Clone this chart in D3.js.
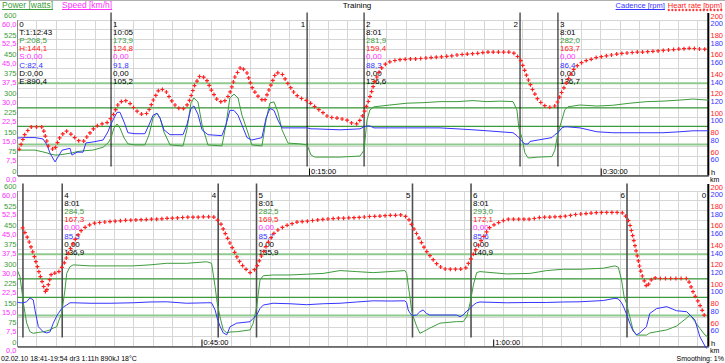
<!DOCTYPE html>
<html>
<head>
<meta charset="utf-8">
<script src="https://cdn.jsdelivr.net/npm/d3@7"></script>
<style>
  body { margin: 0; background: #fff; }
  svg { display: block; }
  text { font-family: "Liberation Sans", Arial, sans-serif; }
</style>
</head>
<body>
<div id="chart"></div>
<script>
// ---- data ----
// time span (minutes) of each of the two rows
var panelSpan = [[0, 35.53], [35.53, 71.06]];

// heart rate, one sample every 0.3 min starting at 0.1 min
var hrStart = 0.1, hrStep = 0.3;
var heartRate = [
  67, 83, 90, 90, 90, 70, 66, 80, 86, 82,
  76, 75, 83, 90, 93, 94, 101, 114, 118, 114,
  107, 103, 104, 118, 129, 128, 118, 110, 108, 114,
  132, 143, 140, 127, 117, 115, 123, 142, 152, 146,
  129, 121, 116, 131, 146, 145, 135, 126, 120, 118,
  114, 109, 105, 100, 99.5, 98.5, 97.5, 94, 93, 103,
  119, 138, 150, 156, 158, 159, 159.5, 160, 160, 160.5,
  161, 161.5, 162, 162.5, 163, 164, 164.5, 165, 165.5, 166,
  167, 167, 167, 167, 167, 165.5, 158, 142, 128, 117,
  112, 110, 112, 126, 138, 149, 155, 158, 159.5, 161.5,
  162.5, 163.5, 164.5, 165.5, 166, 166.5, 167, 167, 167.5, 168,
  168.5, 169, 169.5, 170, 170.5, 171, 170.5, 170, 170, 162,
  150, 133, 113, 95, 116, 115, 124, 138, 150, 159,
  164, 166.5, 167.5, 168, 168.5, 169, 169.5, 170, 170, 170.5,
  170.5, 171, 171, 171.5, 172, 172, 172.5, 173, 173, 173,
  173.5, 173.5, 173, 166, 153, 141, 129, 121, 116, 120,
  134, 146, 156, 161, 164, 166, 168, 168.5, 169, 170,
  170.5, 171, 171.5, 172, 172, 172.5, 172.5, 173, 173.5, 174,
  174, 174.5, 175, 175, 175.5, 173, 162, 151, 140, 132,
  125, 120, 119.5, 119.5, 119.5, 121, 132, 143, 153, 162,
  166, 168.5, 171, 171, 171, 171, 171, 172, 173, 173,
  173.5, 173.5, 174, 175, 176, 176.5, 177, 177.5, 178, 178,
  178, 178, 177.5, 168, 143, 116, 101, 111, 110, 110,
  110, 110, 110, 110, 95, 84, 70
];

// power (W) and cadence (rpm) at these times (min)
var lineTimes = [
  0, 0.4, 0.91, 1.32, 1.53, 1.68, 1.94, 2.09, 2.3, 2.71, 2.81, 3.07, 3.38, 3.53, 3.89, 4.41, 4.66, 4.82,
  4.97, 5.13, 5.28, 5.49, 5.69, 6.05, 6.56, 6.77, 6.98, 7.18, 7.34, 7.54, 7.85, 8.52, 8.72, 8.93, 9.08,
  9.29, 9.5, 9.8, 10.52, 10.73, 10.93, 11.14, 11.35, 11.55, 11.81, 12.06, 12.58, 12.79, 12.99, 13.2,
  13.4, 13.61, 13.92, 14.53, 14.9, 15.1, 15.3, 16.59, 17.62, 17.83, 17.98, 18.13, 18.34, 19.16, 20.04,
  20.86, 21.73, 22.61, 23.43, 24.15, 24.82, 25.49, 25.69, 25.79, 25.95, 26.1, 26.26, 26.36, 26.77,
  27.49, 27.64, 27.8, 28.0, 28.15, 28.31, 28.93, 29.8, 30.62, 31.5, 32.37, 33.2, 34.07, 34.74, 35.5,
  35.53, 35.67, 35.76, 35.84, 36.01, 36.18, 36.35, 36.44, 36.61, 36.87, 37.04, 37.21, 37.38, 37.56,
  37.64, 37.81, 37.98, 38.07, 38.24, 38.41, 39.27, 40.3, 41.48, 42.35, 43.21, 44.24, 45.27, 45.52,
  45.7, 45.81, 45.95, 46.12, 46.3, 46.47, 46.81, 47.5, 47.66, 47.84, 48.01, 48.18, 48.69, 49.55,
  50.41, 51.26, 52.12, 52.98, 53.83, 54.69, 55.46, 55.55, 55.63, 55.72, 55.8, 55.89, 56.06, 56.23,
  56.4, 56.57, 56.74, 57.26, 58.12, 58.29, 58.46, 58.64, 58.81, 58.98, 59.15, 59.32, 60.69, 61.89,
  62.75, 63.6, 64.46, 65.66, 66.26, 66.43, 66.6, 66.73, 66.85, 67.02, 67.19, 67.37, 67.54, 67.88,
  68.05, 68.4, 68.92, 69.43, 69.95, 70.12, 70.37, 70.63, 70.89, 71.04
];
var power = [
  98, 98, 98, 91, 87, 83, 79, 79, 81, 86, 87, 92, 95, 96, 98, 109, 125, 145,
  183, 199, 183, 145, 122, 118, 118, 156, 222, 241, 222, 168, 118, 114, 176, 280, 299,
  284, 195, 118, 114, 195, 299, 314, 299, 233, 176, 118, 114, 214, 280, 284,
  245, 176, 125, 122, 118, 79, 71, 71, 75, 98, 214, 253, 265, 272, 279,
  281, 285, 285, 289, 285, 287, 285, 253, 183, 145, 87, 68, 68, 71,
  73, 98, 164, 214, 253, 265, 272, 268, 271, 279, 285, 287, 291, 295, 291,
  295, 269, 218, 168, 91, 57, 51, 52, 54, 57, 60, 64, 71, 76,
  95, 128, 218, 282, 308, 315, 311, 311, 311, 315, 321, 321, 327, 321,
  231, 168, 115, 64, 53, 56, 57, 64, 90, 154, 257, 273, 276, 276,
  279, 282, 293, 289, 285, 289, 293, 282, 237, 191, 141, 115, 79, 51,
  57, 64, 71, 90, 96, 96, 96, 115, 167, 237, 285, 289, 280, 282,
  293, 298, 298, 302, 311, 306, 257, 192, 167, 115, 64, 44, 44, 44,
  52, 57, 64, 79, 110, 122, 96, 70, 44, 37
];
var cadence = [
  78.6, 79, 79, 77.6, 71.4, 63, 54, 59, 66, 68, 61, 64, 64, 73.5, 74.5, 76.5, 85, 93,
  99, 105, 105, 95, 84, 83, 83, 92, 102, 104, 99, 87, 82, 82, 92, 109, 111.5,
  103, 87, 82, 81, 92, 107, 107, 102, 92, 79, 76.5, 79, 99, 109, 107,
  97, 89, 89, 89, 89, 88, 88, 87, 88, 90, 91, 91, 89, 89, 89,
  89, 89, 88, 87, 86, 85, 84, 81, 79, 75, 72.4, 72.4, 75, 76.5,
  79, 82, 84, 89, 90, 90, 89, 85, 84, 84, 84, 84, 85, 86, 86,
  85.8, 85, 85, 85, 86, 90, 88, 77.6, 60.4, 55, 54, 55, 64, 71.4,
  74, 79, 81.7, 82.7, 85, 85, 84.5, 84.5, 85, 85.8, 86, 84.5, 85, 85,
  77.6, 69, 61, 54, 52, 60.4, 64, 65.5, 69, 72.4, 79, 82.7, 84.5, 84,
  83, 84, 84.5, 85.8, 87, 86.8, 87, 85, 77.6, 74.5, 72.4, 72, 72.4, 75.8,
  77.6, 74, 72.4, 72.4, 72.4, 70.7, 72.4, 76.5, 79, 82.7, 85, 85.8, 85, 85.3,
  85.3, 85.8, 86, 87.3, 89.6, 89, 85, 79.6, 73.5, 64, 56, 52, 54, 60.4,
  74, 79, 81, 76.8, 75.8, 72.4, 67.3, 50, 40.5, 36
];

// laps (minutes) and their summary texts
var lapStart = [0, 4.82, 17.83, 27.8, 37.84, 47.83, 58.86];
var lapEnd = [71.06, 14.9, 25.85, 35.82, 45.86, 55.85, 66.88];
var lapNames = ["0", "1", "2", "3", "4", "5", "6"];
var lapDur = ["T:1:12:43", "10:05", "8:01", "8:01", "8:01", "8:01", "8:01"];
var lapPow = ["P:208,5", "173,9", "281,9", "282,0", "284,5", "282,5", "293,0"];
var lapHr = ["H:144,1", "124,8", "159,4", "163,7", "167,3", "169,5", "172,1"];
var lapSpd = ["S:0,00", "0,00", "0,00", "0,00", "0,00", "0,00", "0,00"];
var lapCad = ["C:82,4", "91,8", "88,3", "86,4", "85,5", "85,7", "85,6"];
var lapDist = ["D:0,00", "0,00", "0,00", "0,00", "0,00", "0,00", "0,00"];
var lapEnergy = ["E:890,4", "105,2", "136,6", "136,7", "136,9", "135,9", "140,9"];

// limit lines (bpm)
var limitLines = [135, 109.5, 90.5, 72];
var limitLight = [true, false, false, true];

var powerTicks = [0, 75, 150, 225, 300, 375, 450, 525, 600];
var speedTicks = [0, 7.5, 15, 22.5, 30, 37.5, 45, 52.5, 60];
var hrTicks = [60, 80, 100, 120, 140, 160, 180, 200];
var timeTicks = [15, 30, 45, 60];
var timeTickLabels = ["0:15:00", "0:30:00", "0:45:00", "1:00:00"];

// ---- chart ----
var W = 725, H = 363;
var plotLeft = 17.3, plotRight = 708.3;
var green = "#3c9c3c", lightGreen = "#8fca8f", blue = "#3434ff", red = "#ff2020", magenta = "#ff30ff";
var crossGap = 5.2;

var svg = d3.select("#chart").append("svg")
  .attr("width", W)
  .attr("height", H);

svg.append("line")
  .attr("x1", 0).attr("x2", W).attr("y1", 0.5).attr("y2", 0.5)
  .attr("stroke", "#b0b0b0");

var panels = [
  { dom: panelSpan[0], top: 20, bottom: 175.5, lapColor: "#000", lapWidth: 1 },
  { dom: panelSpan[1], top: 191, bottom: 346.5, lapColor: "#505050", lapWidth: 1.6 }
];

var hrPoints = heartRate.map(function(v, i) { return { t: hrStart + i * hrStep, v: v }; });
var linePoints = lineTimes.map(function(t, i) { return { t: t, p: power[i], c: cadence[i] }; });

var fmtSpeed = function(v) { return d3.format(".1f")(v).replace(".", ","); };

panels.forEach(function(pn, pi) {
  var x = d3.scaleLinear().domain(pn.dom).range([plotLeft, plotRight]);
  var yHr = d3.scaleLinear().domain([40, 200]).range([pn.bottom, pn.top]);
  var yPow = d3.scaleLinear().domain([0, 600]).range([pn.bottom, pn.top]);
  var ySpd = d3.scaleLinear().domain([0, 60]).range([pn.bottom, pn.top]);

  var g = svg.append("g");

  svg.append("clipPath").attr("id", "clip" + pi)
    .append("rect")
    .attr("x", plotLeft).attr("y", pn.top - 3)
    .attr("width", plotRight - plotLeft)
    .attr("height", pn.bottom - pn.top + 5);

  // grid
  g.selectAll(".hgrid").data(d3.range(40, 201, 10)).enter().append("line")
    .attr("x1", plotLeft).attr("x2", plotRight)
    .attr("y1", function(d) { return yHr(d); })
    .attr("y2", function(d) { return yHr(d); })
    .attr("stroke", "#d6d6d6")
    .attr("shape-rendering", "crispEdges");

  g.selectAll(".vgrid").data(d3.range(pn.dom[0], pn.dom[1], 1)).enter().append("line")
    .attr("x1", function(d) { return x(d); })
    .attr("x2", function(d) { return x(d); })
    .attr("y1", pn.top).attr("y2", pn.bottom)
    .attr("stroke", function(d, i) { return i === 0 ? "#888" : "#d6d6d6"; })
    .attr("shape-rendering", "crispEdges");

  // limit lines
  g.selectAll(".limit").data(limitLines).enter().append("line")
    .attr("x1", plotLeft).attr("x2", plotRight)
    .attr("y1", function(d) { return yHr(d); })
    .attr("y2", function(d) { return yHr(d); })
    .attr("stroke", function(d, i) { return limitLight[i] ? lightGreen : green; })
    .attr("stroke-width", function(d, i) { return limitLight[i] ? 2 : 1.3; });

  // time axis
  var ticks = timeTicks.filter(function(t) { return t > pn.dom[0] && t < pn.dom[1]; });
  var axis = d3.axisBottom(x)
    .tickValues(ticks)
    .tickSize(-7)
    .tickSizeOuter(0)
    .tickFormat(function(t) { return timeTickLabels[timeTicks.indexOf(t)]; });
  var ag = g.append("g")
    .attr("transform", "translate(0," + pn.bottom + ")")
    .call(axis)
    .attr("font-family", null)
    .attr("font-size", 7.5);
  ag.select(".domain").attr("stroke", "#000");
  ag.selectAll(".tick line").attr("stroke", "#000");
  ag.selectAll(".tick text")
    .attr("text-anchor", "start")
    .attr("x", 1.5)
    .attr("y", -1.2)
    .attr("dy", null)
    .attr("fill", "#000");

  // right axis line
  g.append("line")
    .attr("x1", plotRight).attr("x2", plotRight)
    .attr("y1", pn.top - 7).attr("y2", pn.bottom)
    .attr("stroke", "#000").attr("stroke-width", 2);

  // left labels
  powerTicks.forEach(function(v) {
    g.append("text")
      .attr("x", 16.5).attr("y", yPow(v) - 1.9)
      .attr("text-anchor", "end").attr("font-size", 7.5)
      .attr("fill", green).text(v);
  });
  speedTicks.forEach(function(v) {
    g.append("text")
      .attr("x", 16.5).attr("y", ySpd(v) + 6.9)
      .attr("text-anchor", "end").attr("font-size", 7.5)
      .attr("fill", magenta).text(fmtSpeed(v));
  });

  // right labels
  hrTicks.forEach(function(v) {
    g.append("text")
      .attr("x", 710.5).attr("y", yHr(v) - 1.5)
      .attr("font-size", 7.5).attr("fill", red).text(v);
    g.append("text")
      .attr("x", 710.5).attr("y", yHr(v) + 6.2)
      .attr("font-size", 7.5).attr("fill", blue).text(v);
  });
  g.append("text").attr("x", 711).attr("y", pn.bottom - 1)
    .attr("font-size", 7.5).attr("fill", "#000").text("h");
  g.append("text").attr("x", 710).attr("y", pn.bottom + 6.3)
    .attr("font-size", 7).attr("fill", "#000").text("km");

  // lap markers
  lapStart.forEach(function(t, i) {
    if (t < pn.dom[0] || t >= pn.dom[1]) return;
    var lx = x(t);
    if (t > pn.dom[0]) {
      g.append("line")
        .attr("x1", lx).attr("x2", lx)
        .attr("y1", pn.top - 7.5).attr("y2", pn.bottom - 9)
        .attr("stroke", pn.lapColor).attr("stroke-width", pn.lapWidth);
    }
    var rows = [
      [lapNames[i], "#000"], [lapDur[i], "#000"], [lapPow[i], green], [lapHr[i], red],
      [lapSpd[i], magenta], [lapCad[i], blue], [lapDist[i], "#000"], [lapEnergy[i], "#000"]
    ];
    rows.forEach(function(r, k) {
      g.append("text")
        .attr("x", lx + 2).attr("y", pn.top + 6.8 + k * 8.15)
        .attr("font-size", 8).attr("fill", r[1]).text(r[0]);
    });
  });
  lapEnd.forEach(function(t, i) {
    if (t <= pn.dom[0] || t > pn.dom[1] + 0.001) return;
    var lx = x(t);
    if (t < pn.dom[1]) {
      g.append("line")
        .attr("x1", lx).attr("x2", lx)
        .attr("y1", pn.top - 7.5).attr("y2", pn.bottom - 9)
        .attr("stroke", pn.lapColor).attr("stroke-width", pn.lapWidth);
    }
    if (lx - plotLeft > 12) {
      g.append("text")
        .attr("x", lx - 2).attr("y", pn.top + 6.8)
        .attr("text-anchor", "end").attr("font-size", 8)
        .attr("fill", "#000").text(lapNames[i]);
    }
  });

  // series
  var inPanel = function(d) { return d.t >= pn.dom[0] - 0.6 && d.t <= pn.dom[1] + 0.6; };
  var pts = linePoints.filter(inPanel);
  var series = g.append("g").attr("clip-path", "url(#clip" + pi + ")");

  series.append("path")
    .datum(pts)
    .attr("fill", "none").attr("stroke", green).attr("stroke-width", 1)
    .attr("d", d3.line().x(function(d) { return x(d.t); }).y(function(d) { return yPow(d.p); }));

  series.append("path")
    .datum(pts)
    .attr("fill", "none").attr("stroke", blue).attr("stroke-width", 1)
    .attr("d", d3.line().x(function(d) { return x(d.t); }).y(function(d) { return yHr(d.c); }));

  // heart rate: crosses placed at even steps along the curve
  var hrPath = series.append("path")
    .datum(hrPoints.filter(function(d) { return d.t >= pn.dom[0] && d.t <= pn.dom[1]; }))
    .attr("fill", "none").attr("stroke", "none")
    .attr("d", d3.line().x(function(d) { return x(d.t); }).y(function(d) { return yHr(d.v); }));
  var node = hrPath.node();
  var len = node.getTotalLength();
  var marks = d3.range(0, len + 0.1, crossGap).map(function(l) { return node.getPointAtLength(l); });

  series.selectAll(".hr")
    .data(marks)
    .enter().append("path")
    .attr("transform", function(d) { return "translate(" + d.x.toFixed(1) + "," + d.y.toFixed(1) + ")"; })
    .attr("d", "M-2,0H2M0,-2V2")
    .attr("stroke", red).attr("stroke-width", 1.2);
});

// header
var powLeg = svg.append("text").attr("x", 2).attr("y", 7.5)
  .attr("font-size", 8.5).attr("fill", green).text("Power [watts]");
var pw = powLeg.node().getComputedTextLength();
svg.append("line").attr("x1", 2).attr("x2", 2 + pw).attr("y1", 9.5).attr("y2", 9.5)
  .attr("stroke", green);
var spdX = 2 + pw + 9;
var spdLeg = svg.append("text").attr("x", spdX).attr("y", 7.5)
  .attr("font-size", 8.5).attr("fill", magenta).text("Speed [km/h]");
var sw = spdLeg.node().getComputedTextLength();
svg.append("line").attr("x1", spdX).attr("x2", spdX + sw).attr("y1", 9.5).attr("y2", 9.5)
  .attr("stroke", magenta);

svg.append("text").attr("x", 357).attr("y", 7.5)
  .attr("text-anchor", "middle").attr("font-size", 8).attr("fill", "#000").text("Training");

var hrLeg = svg.append("text").attr("x", 722).attr("y", 7.5)
  .attr("text-anchor", "end").attr("font-size", 7.5).attr("fill", red).text("Heart rate [bpm]");
var hw = hrLeg.node().getComputedTextLength();
svg.selectAll(".legx").data(d3.range(722 - hw + 1, 722, 3.5)).enter().append("path")
  .attr("transform", function(d) { return "translate(" + d + ",10)"; })
  .attr("d", "M-1.2,0H1.2M0,-1.2V1.2")
  .attr("stroke", red).attr("stroke-width", 1);
var cadEnd = 722 - hw - 3;
var cadLeg = svg.append("text").attr("x", cadEnd).attr("y", 7.5)
  .attr("text-anchor", "end").attr("font-size", 7.5).attr("fill", blue).text("Cadence [rpm]");
var cw = cadLeg.node().getComputedTextLength();
svg.append("line").attr("x1", cadEnd - cw).attr("x2", cadEnd).attr("y1", 9.5).attr("y2", 9.5)
  .attr("stroke", blue);

// footer
svg.append("text").attr("x", 1).attr("y", 360.5)
  .attr("font-size", 7).attr("fill", "#000").text("02.02.10 18:41-19:54 dr3 1:11h 890kJ 18°C");
svg.append("text").attr("x", 724).attr("y", 360.5)
  .attr("text-anchor", "end").attr("font-size", 7).attr("fill", "#000").text("Smoothing: 1%");
</script>
</body>
</html>
